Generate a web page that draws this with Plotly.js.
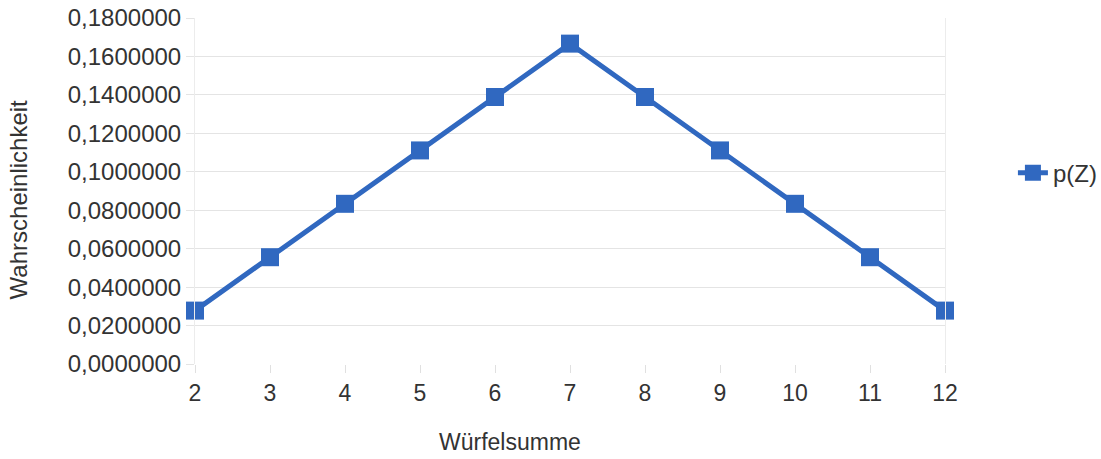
<!DOCTYPE html>
<html>
<head>
<meta charset="utf-8">
<script src="https://cdn.plot.ly/plotly-3.0.1.min.js"></script>
<style>html,body{margin:0;padding:0;background:#fff;}#chart{width:1101px;height:459px;}</style>
</head>
<body>
<div id="chart"></div>
<script>
const sums = [2, 3, 4, 5, 6, 7, 8, 9, 10, 11, 12];
const probs = [0.0277778, 0.0555556, 0.0833333, 0.1111111, 0.1388889, 0.1666667, 0.1388889, 0.1111111, 0.0833333, 0.0555556, 0.0277778];
const seriesName = 'p(Z)';
const xTitle = 'Würfelsumme';
const yTitle = 'Wahrscheinlichkeit';

const col = '#3068c0';
const trace = {
  x: sums, y: probs, type: 'scatter', mode: 'lines+markers', name: seriesName,
  line: {color: col, width: 5},
  marker: {symbol: 'square', size: 18, color: col},
  cliponaxis: false
};
const layout = {
  width: 1101, height: 459,
  margin: {l: 195, r: 156, t: 18, b: 95, autoexpand: false},
  paper_bgcolor: '#fff', plot_bgcolor: '#fff',
  font: {family: 'Liberation Sans, Arial, sans-serif', size: 24, color: '#333'},
  separators: ',.',
  showlegend: true,
  legend: {xref: 'container', yref: 'container', x: 0.92, y: 0.623, xanchor: 'left', yanchor: 'middle', font: {size: 24, color: '#333'}, bgcolor: 'rgba(0,0,0,0)'},
  xaxis: {
    range: [2, 12], tickmode: 'array', tickvals: sums, ticktext: sums.map(String),
    showgrid: false,
    zeroline: false, showline: false,
    ticks: 'outside', ticklen: 8, tickcolor: '#e0e0e0', tickwidth: 1,
    tickfont: {size: 23, color: '#333'}
  },
  yaxis: {
    range: [0, 0.18], dtick: 0.02, tick0: 0,
    tickformat: ',.7f',
    showgrid: true, gridcolor: '#e4e4e4', gridwidth: 1,
    zeroline: false, showline: true, mirror: true, linecolor: '#ececec', linewidth: 1,
    ticks: 'outside', ticklen: 8, tickcolor: '#e4e4e4',
    tickfont: {size: 24, color: '#333'}
  },
  annotations: [
    {text: xTitle, xref: 'paper', yref: 'paper', x: 0.42, y: -0.225, xanchor: 'center', yanchor: 'middle', showarrow: false, font: {size: 23, color: '#333'}},
    {text: yTitle, xref: 'paper', yref: 'paper', x: -0.235, y: 0.475, xanchor: 'center', yanchor: 'middle', textangle: -90, showarrow: false, font: {size: 24, color: '#333'}}
  ]
};
Plotly.newPlot('chart', [trace], layout, {displayModeBar: false, staticPlot: true});
</script>
</body>
</html>
